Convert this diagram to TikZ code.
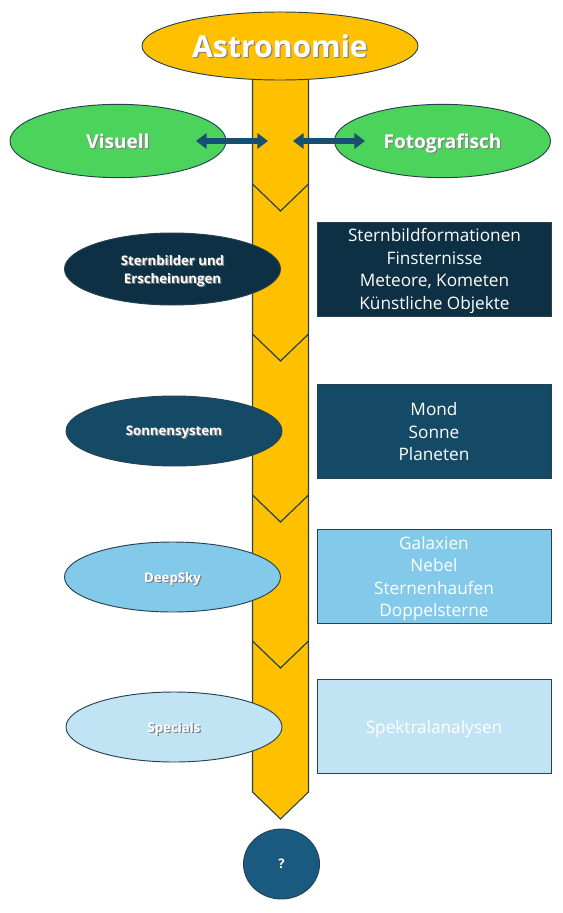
\documentclass[tikz,border=0pt]{standalone}
\usepackage{fontspec}
\setmainfont{Open Sans}
\usetikzlibrary{shapes.geometric,arrows.meta}
\definecolor{ayellow}{RGB}{255,192,0}
\definecolor{agreen}{RGB}{76,211,92}
\definecolor{navyA}{RGB}{14,48,68}
\definecolor{navyB}{RGB}{21,74,102}
\definecolor{skyA}{RGB}{131,201,234}
\definecolor{skyB}{RGB}{193,228,245}
\definecolor{qblue}{RGB}{27,90,128}
\definecolor{arrblue}{RGB}{24,78,112}
\definecolor{edge}{RGB}{38,66,80}
\newcommand\shd[1]{\leavevmode\makebox[0pt][l]{\raisebox{-0.9pt}{\hspace{0.9pt}\textcolor{black!50}{#1}}}#1}
\tikzset{
  ell/.style={ellipse, draw=edge, line width=0.7pt, inner sep=0pt, minimum width=162pt, minimum height=53pt, text=white, font=\bfseries\fontsize{9.9}{13.5}\selectfont, align=center, text depth=0pt},
  box/.style={rectangle, draw=edge, line width=0.7pt, inner sep=0pt, minimum width=175.5pt, minimum height=70pt, text=white, font=\fontsize{12.9}{16.9}\selectfont, align=center, text depth=0pt},
  dblarrow/.style={line width=4pt, color=arrblue, {Triangle[length=8pt,width=11.5pt]}-{Triangle[length=8pt,width=11.5pt]}}
}
\begin{document}
\begin{tikzpicture}[x=0.75pt,y=-0.75pt]
\useasboundingbox (0,0) rectangle (562,913);
% bar
\draw[fill=ayellow, draw=edge, line width=0.8pt] (252.5,60) -- (252.5,792) -- (280.5,819) -- (308.5,792) -- (308.5,60) -- cycle;
\foreach \y in {184,334,495,641}
  \draw[edge, line width=0.9pt] (252.5,\y) -- (280.5,\y+27) -- (308.5,\y);
% top
\node[ell, fill=ayellow, minimum width=207pt, minimum height=51pt, font=\bfseries\fontsize{22.6}{26}\selectfont, text depth=-3pt] (astro) at (280,46) {\shd{Astronomie}};
\node[ell, fill=agreen, minimum height=55pt, font=\bfseries\fontsize{14.3}{17}\selectfont] (vis) at (118,141) {\shd{Visuell}};
\node[ell, fill=agreen, minimum height=55pt, font=\bfseries\fontsize{14.3}{17}\selectfont] (foto) at (442.5,141) {\shd{Fotografisch}};
\coordinate (la) at (196,141);
\coordinate (lb) at (268,141);
\coordinate (ra) at (293,141);
\coordinate (rb) at (365,141);
\draw[dblarrow] (la) -- (lb);
\draw[dblarrow] (ra) -- (rb);
% categories
\node[ell, fill=navyA, minimum height=54pt] (stern) at (172.5,269) {\shd{Sternbilder und}\\\shd{Erscheinungen}};
\node[box, fill=navyA, minimum height=70.5pt, minimum width=176pt] (sternbox) at (434.5,269) {Sternbildformationen\\Finsternisse\\Meteore, Kometen\\Künstliche Objekte};
\node[ell, fill=navyB, minimum height=52.5pt] (sonne) at (174,431) {\shd{Sonnensystem}};
\node[box, fill=navyB] (sonnebox) at (434,431.5) {Mond\\Sonne\\Planeten};
\node[ell, fill=skyA, minimum height=52.5pt] (deep) at (172.5,577) {\shd{DeepSky}};
\node[box, fill=skyA] (deepbox) at (434,576.5) {Galaxien\\Nebel\\Sternenhaufen\\Doppelsterne};
\node[ell, fill=skyB, minimum height=52.5pt] (spec) at (174,727) {\shd{Specials}};
\node[box, fill=skyB, text depth=-3pt] (specbox) at (434,726.5) {Spektralanalysen};
\node[ell, fill=qblue, minimum width=57pt, minimum height=52.5pt] (q) at (281.5,864) {?};
\end{tikzpicture}
\end{document}
